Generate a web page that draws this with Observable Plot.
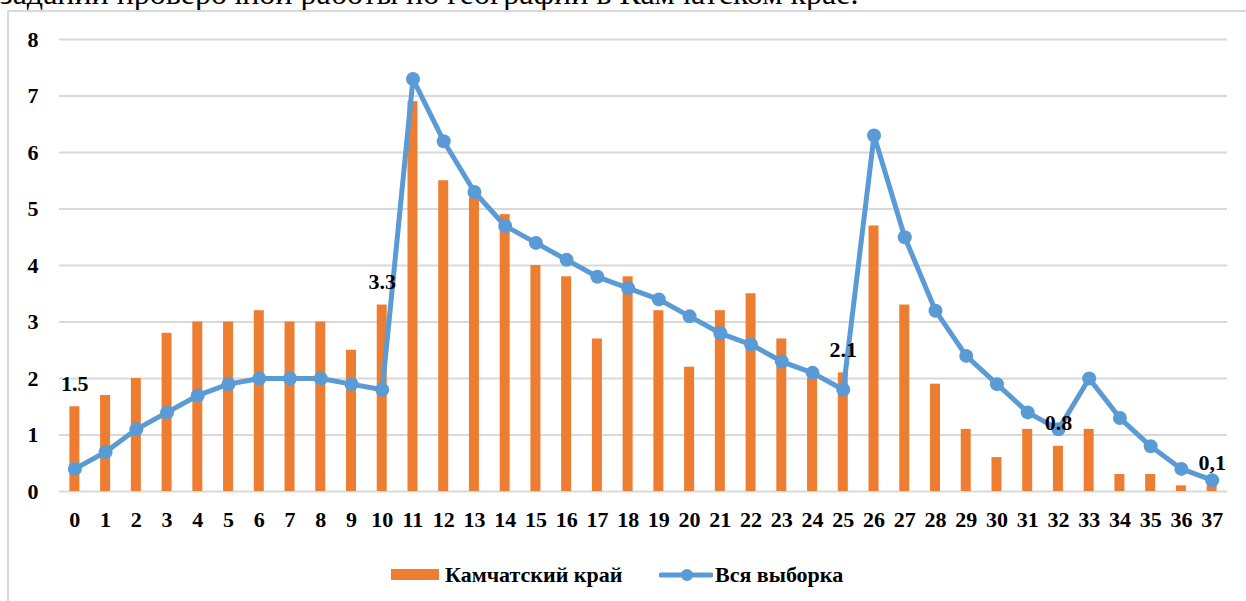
<!DOCTYPE html>
<html>
<head>
<meta charset="utf-8">
<script src="https://cdn.jsdelivr.net/npm/d3@7"></script>
<script src="https://cdn.jsdelivr.net/npm/@observablehq/plot@0.6"></script>
<style>
  html, body { margin: 0; padding: 0; background: #fff; overflow: hidden; }
  #wrap { position: relative; width: 1246px; height: 601px; overflow: hidden; font-family: 'Liberation Serif', 'Times New Roman', serif; }
  #toptext { position: absolute; left: 0; top: -23px; font-size: 32px; line-height: 32px; white-space: nowrap; color: #000; font-weight: normal; }
  #frame { position: absolute; left: 7px; top: 10px; width: 1300px; height: 640px; border: 2px solid #d9d9d9; pointer-events: none; }
  #chart { position: absolute; left: 0; top: 0; }
  #chart svg text { font-family: 'Liberation Serif', 'Times New Roman', serif !important; font-weight: bold; }
  #legend { position: absolute; left: 0; top: 560px; width: 1246px; height: 30px; font-weight: bold; font-size: 22px; }
  .li { position: absolute; top: 0; height: 30px; line-height: 30px; white-space: nowrap; }
</style>
</head>
<body>
<div id="wrap">
  <div id="toptext">заданий проверочной работы по географии в Камчатском крае.</div>
  <div id="frame"></div>
  <div id="chart"></div>
  <div id="legend"></div>
</div>
<script>
const categories = ["0","1","2","3","4","5","6","7","8","9","10","11","12","13","14","15","16","17","18","19","20","21","22","23","24","25","26","27","28","29","30","31","32","33","34","35","36","37"];
const kamchatka = [1.5,1.7,2.0,2.8,3.0,3.0,3.2,3.0,3.0,2.5,3.3,6.9,5.5,5.2,4.9,4.0,3.8,2.7,3.8,3.2,2.2,3.2,3.5,2.7,2.0,2.1,4.7,3.3,1.9,1.1,0.6,1.1,0.8,1.1,0.3,0.3,0.1,0.1];
const allSample = [0.4,0.7,1.1,1.4,1.7,1.9,2.0,2.0,2.0,1.9,1.8,7.3,6.2,5.3,4.7,4.4,4.1,3.8,3.6,3.4,3.1,2.8,2.6,2.3,2.1,1.8,6.3,4.5,3.2,2.4,1.9,1.4,1.1,2.0,1.3,0.8,0.4,0.2];
const yTicks = [0,1,2,3,4,5,6,7,8];
const labelCats = ["0","10","25","32","37"];
const labelTexts = ["1.5","3.3","2.1","0.8","0,1"];
const seriesNames = ["Камчатский край","Вся выборка"];
const colors = ["#ed7d31","#5b9bd5"];

const rows = categories.map((c, i) => ({cat: c, k: kamchatka[i], a: allSample[i]}));
const labels = labelCats.map((c, i) => ({cat: c, k: kamchatka[categories.indexOf(c)], t: labelTexts[i]}));

const chart = Plot.plot({
  width: 1246,
  height: 545,
  marginLeft: 59,
  marginRight: 19,
  marginTop: 39,
  marginBottom: 54,
  style: {
    fontFamily: "'Liberation Serif', 'Times New Roman', serif",
    fontSize: "22px",
    fontWeight: "bold",
    color: "#000",
    background: "transparent",
    overflow: "visible"
  },
  x: {type: "band", domain: categories, paddingInner: 0.675, paddingOuter: 0.3375, round: false, label: null},
  y: {domain: [0, 8], label: null},
  marks: [
    Plot.gridY(yTicks, {stroke: "#d9d9d9", strokeOpacity: 1, strokeWidth: 2}),
    Plot.axisY(yTicks, {tickSize: 0, tickPadding: 21, label: null, fontSize: 22, tickFormat: d => String(d)}),
    Plot.axisX({tickSize: 0, tickPadding: 20, label: null, fontSize: 22}),
    Plot.barY(rows, {x: "cat", y: "k", fill: colors[0]}),
    Plot.line(rows, {x: "cat", y: "a", stroke: colors[1], strokeWidth: 5, strokeLinejoin: "round"}),
    Plot.dot(rows, {x: "cat", y: "a", r: 7, fill: colors[1], stroke: "none"}),
    Plot.text(labels, {x: "cat", y: "k", text: "t", dy: -23, fontSize: 22, fontWeight: "bold", fill: "#000"})
  ]
});
document.getElementById("chart").appendChild(chart);

// legend
const leg = document.getElementById("legend");
leg.innerHTML = `
  <div class="li" style="left:391px;"><span style="display:inline-block;width:48px;height:11px;background:${colors[0]};vertical-align:middle;margin-right:6px;position:relative;top:-2px;"></span>${seriesNames[0]}</div>
  <div class="li" style="left:659px;"><svg width="54" height="16" style="vertical-align:middle;margin-right:2px;position:relative;top:-2px;"><line x1="2" y1="8" x2="52" y2="8" stroke="${colors[1]}" stroke-width="5" stroke-linecap="round"/><circle cx="28" cy="8" r="6" fill="${colors[1]}"/></svg>${seriesNames[1]}</div>
`;
</script>
</body>
</html>
